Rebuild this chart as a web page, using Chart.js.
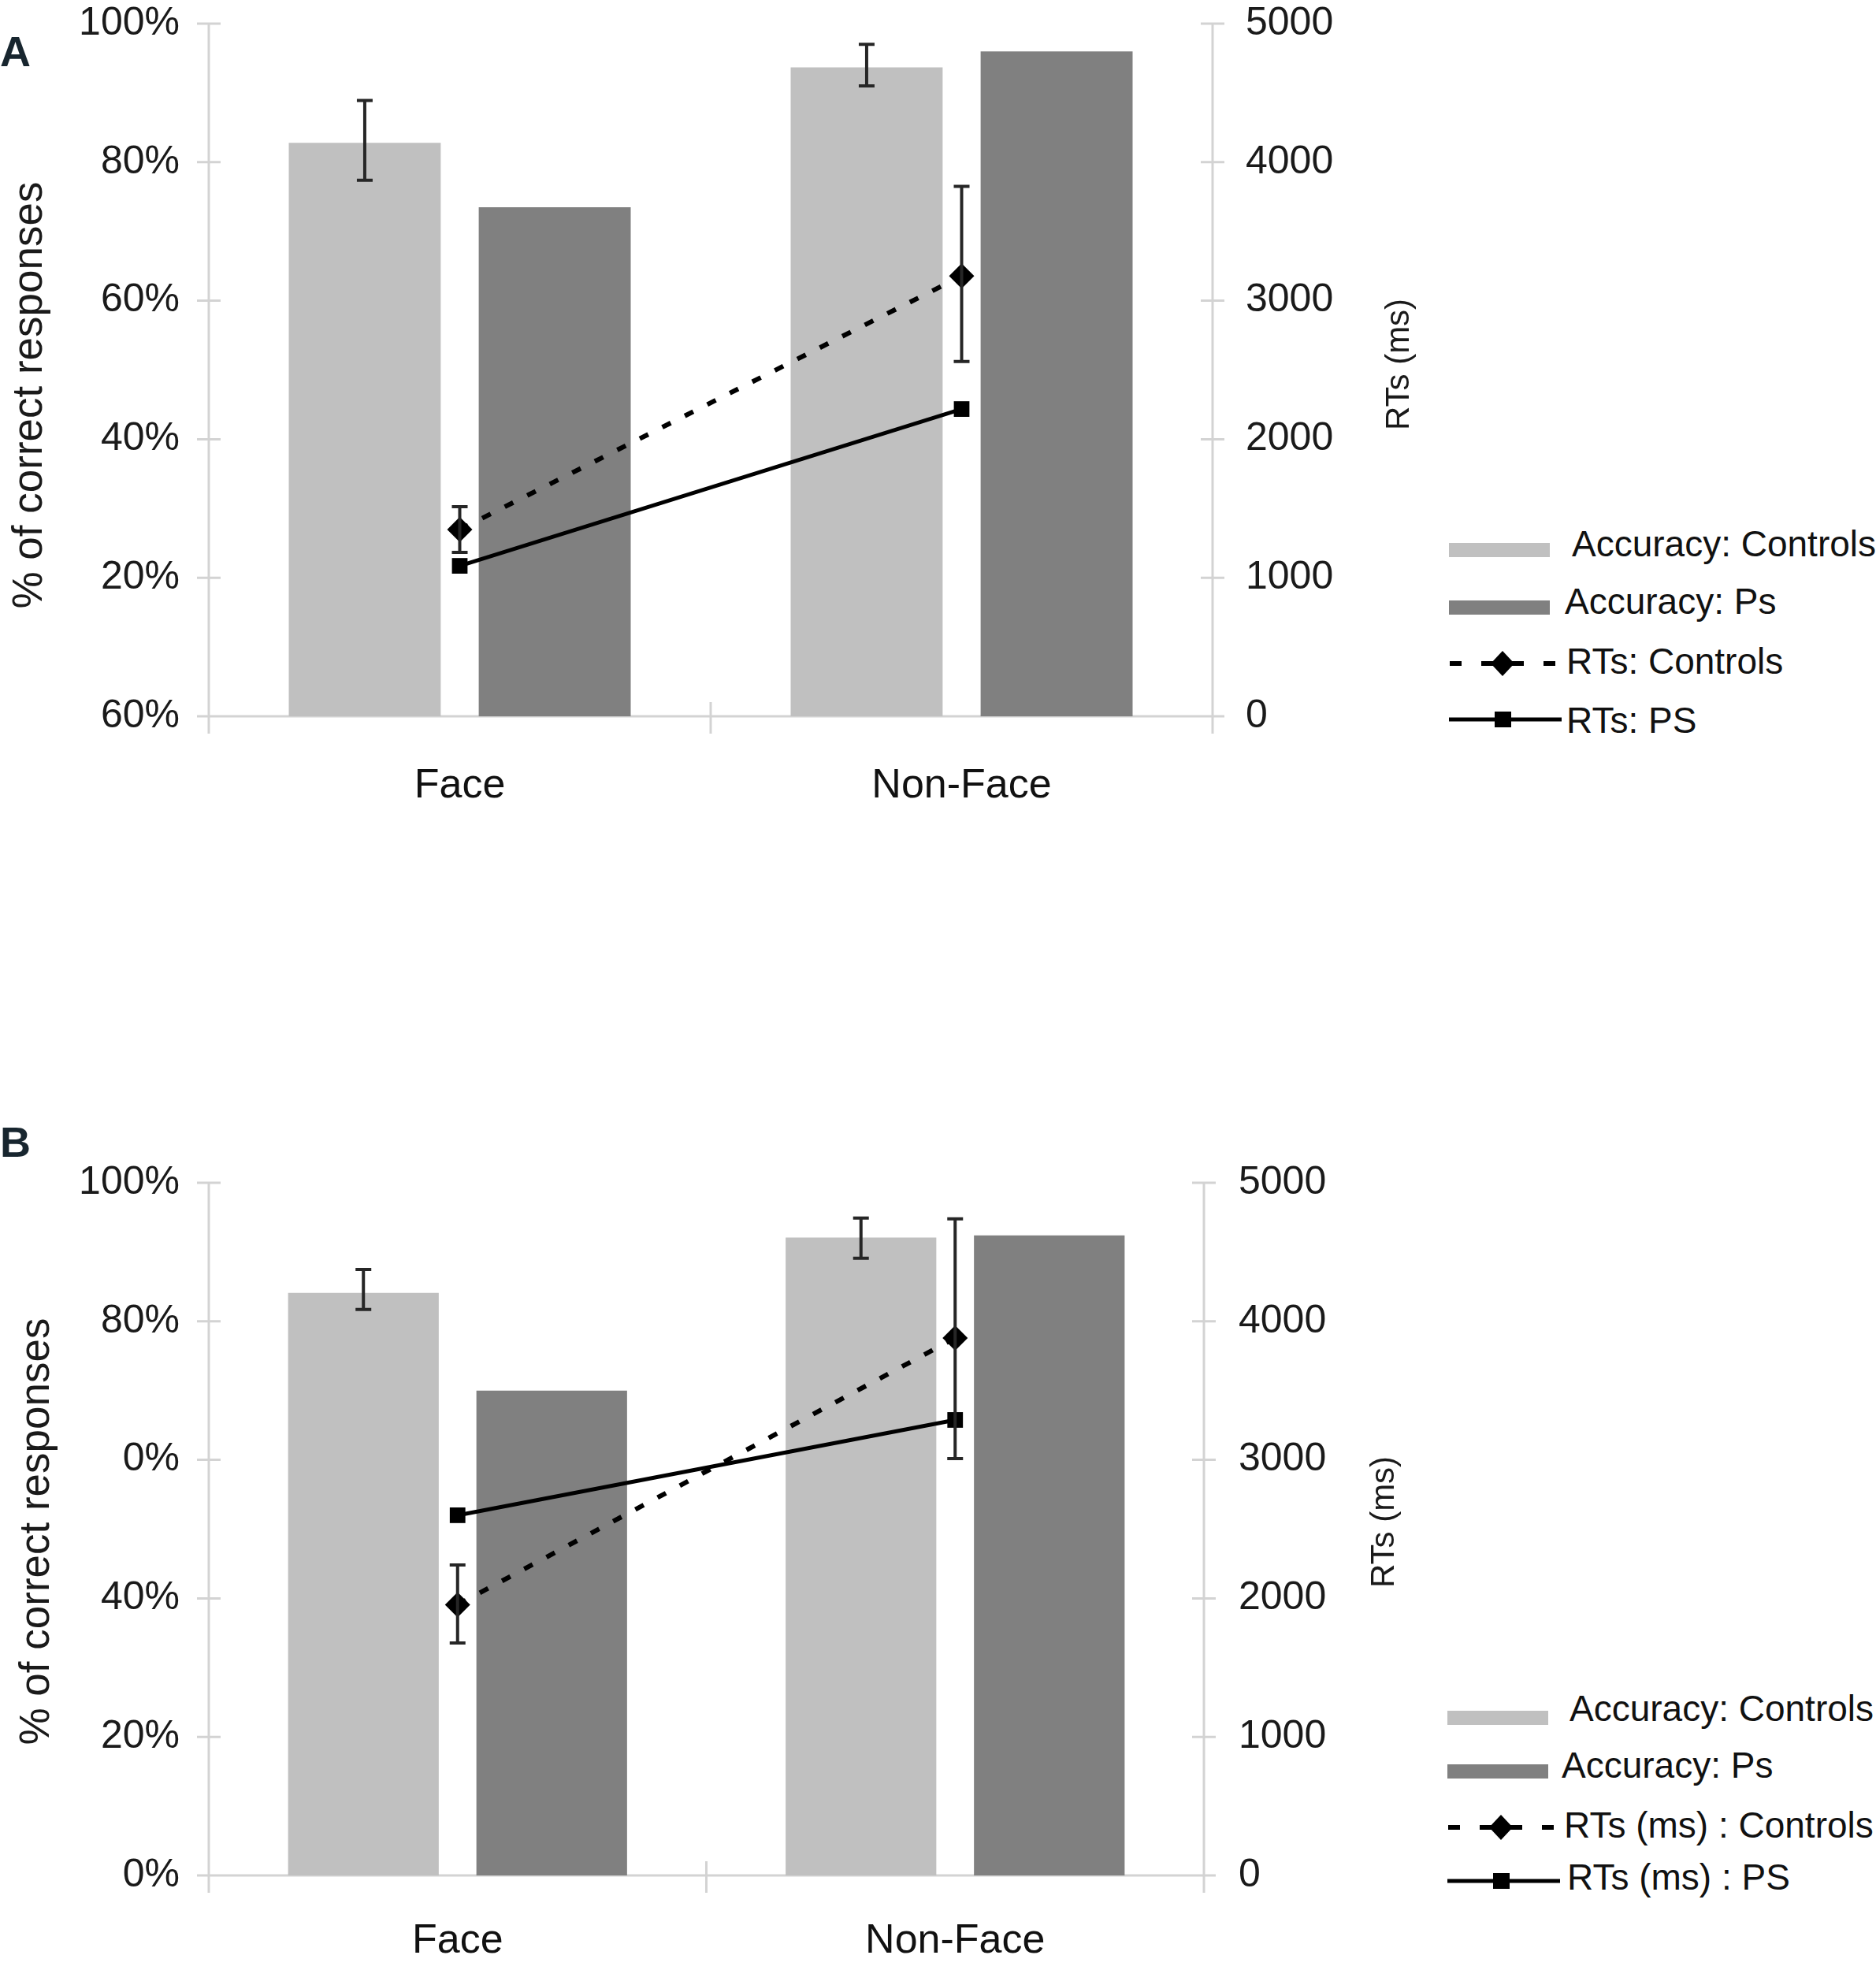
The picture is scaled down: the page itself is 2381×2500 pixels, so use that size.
<!DOCTYPE html>
<html>
<head>
<meta charset="utf-8">
<script src="https://cdn.jsdelivr.net/npm/chart.js@4.4.1/dist/chart.umd.min.js"></script>
<style>
  html, body { margin: 0; padding: 0; background: #fff; }
  body { width: 2381px; height: 2500px; position: relative; overflow: hidden; font-family: "Liberation Sans", Arial, sans-serif; }
  canvas { position: absolute; left: 0; }
  .panel-letter { position: absolute; left: 0; font-family: "Liberation Sans Narrow", "Liberation Sans", Arial, sans-serif; font-weight: bold; font-size: 54px; line-height: 1; color: #18262f; }
  .lg-text { position: absolute; font-size: 46px; line-height: 1; color: #111; white-space: nowrap; transform: translateY(-50%); }
  .lg-swatch { position: absolute; transform: translateY(-50%); }
</style>
</head>
<body>
<div class="panel-letter" style="top:38px">A</div>
<div class="panel-letter" style="top:1422px">B</div>
<canvas id="chartA" width="1810" height="1040" style="top:0px"></canvas>
<canvas id="chartB" width="1810" height="1040" style="top:1460px"></canvas>
<div id="legendA"></div>
<div id="legendB"></div>

<script>
// Data
const categories = ['Face', 'Non-Face'];

// Panel A (tick labels listed bottom to top, as printed)
const accTickLabelsA = ['60%', '20%', '40%', '60%', '80%', '100%'];
const accControlsA = [82.8, 93.7];
const accControlsLowA = [77.4, 91.0];
const accControlsHighA = [88.9, 97.0];
const accPsA = [73.5, 96.0];
const rtControlsA = [1348, 3178];
const rtControlsLowA = [1183, 2561];
const rtControlsHighA = [1513, 3826];
const rtPsA = [1086, 2218];
const legendLabelsA = ['Accuracy: Controls', 'Accuracy: Ps', 'RTs: Controls', 'RTs: PS'];

// Panel B
const accTickLabelsB = ['0%', '20%', '40%', '0%', '80%', '100%'];
const accControlsB = [84.1, 92.1];
const accControlsLowB = [81.7, 89.1];
const accControlsHighB = [87.5, 94.9];
const accPsB = [70.0, 92.4];
const rtControlsB = [1954, 3879];
const rtControlsLowB = [1678, 3009];
const rtControlsHighB = [2241, 4740];
const rtPsB = [2600, 3288];
const legendLabelsB = ['Accuracy: Controls', 'Accuracy: Ps', 'RTs (ms) : Controls', 'RTs (ms) : PS'];

const LIGHT = '#c0c0c0';
const DARK = '#808080';
const AXIS_GREY = '#d3d3d3';
const CANVAS_W = 1810;
const PLOT_LEFT = 265;

Chart.defaults.font.family = "'Liberation Sans', Arial, sans-serif";
Chart.defaults.color = '#1a1a1a';

// Axis lines and crossing tick marks, like the original spreadsheet chart
const axisDecor = {
    id: 'axisDecor',
    beforeDatasetsDraw(chart) {
        const { ctx, chartArea: a, scales } = chart;
        const half = 15, ext = 22;
        ctx.save();
        ctx.strokeStyle = AXIS_GREY;
        ctx.lineWidth = 3;
        ctx.beginPath();
        [a.left, a.right].forEach(x => { ctx.moveTo(x, a.top); ctx.lineTo(x, a.bottom + ext); });
        ctx.moveTo(a.left - half, a.bottom);
        ctx.lineTo(a.right + half, a.bottom);
        scales.y.ticks.forEach((t, i) => {
            const y = scales.y.getPixelForTick(i);
            ctx.moveTo(a.left - half, y); ctx.lineTo(a.left + half, y);
        });
        scales.y1.ticks.forEach((t, i) => {
            const y = scales.y1.getPixelForTick(i);
            ctx.moveTo(a.right - half, y); ctx.lineTo(a.right + half, y);
        });
        // boundary between the two categories
        const mid = (scales.x.getPixelForValue(0) + scales.x.getPixelForValue(1)) / 2;
        ctx.moveTo(mid, a.bottom - 18); ctx.lineTo(mid, a.bottom + ext);
        ctx.stroke();
        ctx.restore();
    }
};

// Error bars for datasets that carry errLow / errHigh
const errorBars = {
    id: 'errorBars',
    afterDatasetsDraw(chart) {
        const { ctx } = chart;
        const cap = 10;
        ctx.save();
        ctx.strokeStyle = '#262626';
        ctx.lineWidth = 4;
        ctx.setLineDash([]);
        chart.data.datasets.forEach((ds, di) => {
            if (!ds.errLow) return;
            const meta = chart.getDatasetMeta(di);
            const scale = chart.scales[ds.yAxisID];
            meta.data.forEach((el, i) => {
                const x = el.x;
                const yLo = scale.getPixelForValue(ds.errLow[i]);
                const yHi = scale.getPixelForValue(ds.errHigh[i]);
                ctx.beginPath();
                ctx.moveTo(x, yLo); ctx.lineTo(x, yHi);
                ctx.moveTo(x - cap, yLo); ctx.lineTo(x + cap, yLo);
                ctx.moveTo(x - cap, yHi); ctx.lineTo(x + cap, yHi);
                ctx.stroke();
            });
        });
        ctx.restore();
    }
};

// Both axis titles read bottom-to-top; drawn here so they can sit where the original has them
const axisTitles = {
    id: 'axisTitles',
    afterDraw(chart, args, opts) {
        const { ctx, chartArea: a } = chart;
        const mid = (a.top + a.bottom) / 2;
        opts.items.forEach(t => {
            ctx.save();
            ctx.translate(t.x, mid + t.dy);
            ctx.rotate(-Math.PI / 2);
            ctx.font = t.size + "px 'Liberation Sans', Arial, sans-serif";
            ctx.fillStyle = '#1a1a1a';
            ctx.textAlign = 'center';
            ctx.textBaseline = 'middle';
            ctx.fillText(t.text, 0, 0);
            ctx.restore();
        });
    }
};

function fixVertical(width) {
    return s => {
        s.width = width;
        s.paddingTop = 0;
        s.paddingBottom = 0;
    };
}

function buildPanel(id, p) {
    const canvas = document.getElementById(id);
    return new Chart(canvas.getContext('2d'), {
        type: 'bar',
        data: {
            labels: categories,
            datasets: [
                {
                    label: p.legend[0], data: p.accControls, yAxisID: 'y', order: 2,
                    backgroundColor: LIGHT, borderWidth: 0,
                    errLow: p.accControlsLow, errHigh: p.accControlsHigh
                },
                {
                    label: p.legend[1], data: p.accPs, yAxisID: 'y', order: 2,
                    backgroundColor: DARK, borderWidth: 0
                },
                {
                    type: 'line', label: p.legend[2], data: p.rtControls, yAxisID: 'y1', order: 0,
                    borderColor: '#000', borderWidth: 6, borderDash: [12, 20],
                    pointStyle: 'rectRot', pointRadius: 16, pointBackgroundColor: '#000', pointBorderWidth: 0,
                    errLow: p.rtControlsLow, errHigh: p.rtControlsHigh
                },
                {
                    type: 'line', label: p.legend[3], data: p.rtPs, yAxisID: 'y1', order: 1,
                    borderColor: '#000', borderWidth: 5,
                    pointStyle: 'rect', pointRadius: 14, pointBackgroundColor: '#000', pointBorderWidth: 0
                }
            ]
        },
        options: {
            responsive: false,
            animation: false,
            devicePixelRatio: 1,
            categoryPercentage: 0.757,
            barPercentage: 0.8,
            layout: { padding: { top: p.padTop, left: 0, right: 0, bottom: 0 } },
            plugins: {
                legend: { display: false },
                tooltip: { enabled: false },
                axisTitles: {
                    items: [
                        { text: '% of correct responses', size: 53, x: p.accTitleX, dy: p.accTitleDy },
                        { text: 'RTs (ms)', size: 42, x: p.rtTitleX, dy: p.rtTitleDy }
                    ]
                }
            },
            scales: {
                x: {
                    grid: { display: false, drawTicks: false },
                    border: { display: false },
                    ticks: { font: { size: 52 }, color: '#111', padding: p.xPad },
                    afterFit: s => { s.height = p.xHeight; }
                },
                y: {
                    position: 'left',
                    min: 0, max: 100,
                    grid: { display: false, drawTicks: false },
                    border: { display: false },
                    ticks: {
                        stepSize: 20, padding: 37, font: { size: 50 },
                        callback: (v, i) => p.accTickLabels[i]
                    },
                    afterFit: fixVertical(PLOT_LEFT)
                },
                y1: {
                    position: 'right',
                    min: 0, max: 5000,
                    grid: { display: false, drawTicks: false },
                    border: { display: false },
                    ticks: {
                        stepSize: 1000, padding: p.rightPad, font: { size: 50 },
                        callback: v => String(v)
                    },
                    afterFit: fixVertical(CANVAS_W - p.plotRight)
                }
            }
        },
        plugins: [axisDecor, errorBars, axisTitles]
    });
}

function swatch(kind) {
    if (kind === 'light' || kind === 'dark') {
        const fill = kind === 'light' ? LIGHT : DARK;
        return '<svg width="130" height="40"><rect x="0" y="11" width="128" height="18" fill="' + fill + '"/></svg>';
    }
    if (kind === 'dash') {
        return '<svg width="140" height="40"><line x1="1" y1="20" x2="136" y2="20" stroke="#000" stroke-width="6" stroke-dasharray="15 25 54 25 15 100"/>' +
            '<path d="M68 4 L83 20 L68 36 L53 20 Z" fill="#000"/></svg>';
    }
    return '<svg width="146" height="40"><line x1="0" y1="20" x2="143" y2="20" stroke="#000" stroke-width="5"/>' +
        '<rect x="58" y="10" width="21" height="20" fill="#000"/></svg>';
}

function buildLegend(id, labels, l) {
    const box = document.getElementById(id);
    const kinds = ['light', 'dark', 'dash', 'solid'];
    labels.forEach((text, i) => {
        const sw = document.createElement('div');
        sw.className = 'lg-swatch';
        sw.style.left = l.swatchX + 'px';
        sw.style.top = l.swatchY[i] + 'px';
        sw.innerHTML = swatch(kinds[i]);
        box.appendChild(sw);
        const tx = document.createElement('div');
        tx.className = 'lg-text';
        tx.style.left = l.textX[i] + 'px';
        tx.style.top = l.textY[i] + 'px';
        tx.textContent = text;
        box.appendChild(tx);
    });
}

function initApp() {
    buildPanel('chartA', {
        legend: legendLabelsA, accTickLabels: accTickLabelsA,
        accControls: accControlsA, accControlsLow: accControlsLowA, accControlsHigh: accControlsHighA,
        accPs: accPsA,
        rtControls: rtControlsA, rtControlsLow: rtControlsLowA, rtControlsHigh: rtControlsHighA,
        rtPs: rtPsA,
        padTop: 30, plotRight: 1539, xHeight: 131, xPad: 57, rightPad: 42,
        accTitleX: 38, accTitleDy: 32, rtTitleX: 1776, rtTitleDy: -7
    });
    buildPanel('chartB', {
        legend: legendLabelsB, accTickLabels: accTickLabelsB,
        accControls: accControlsB, accControlsLow: accControlsLowB, accControlsHigh: accControlsHighB,
        accPs: accPsB,
        rtControls: rtControlsB, rtControlsLow: rtControlsLowB, rtControlsHigh: rtControlsHighB,
        rtPs: rtPsB,
        padTop: 41, plotRight: 1528, xHeight: 120, xPad: 52, rightPad: 44,
        accTitleX: 47, accTitleDy: 3, rtTitleX: 1757, rtTitleDy: -9
    });
    buildLegend('legendA', legendLabelsA, {
        swatchX: 1839, swatchY: [700, 773, 844, 915],
        textX: [1995, 1986, 1988, 1988], textY: [690, 763, 839, 914]
    });
    buildLegend('legendB', legendLabelsB, {
        swatchX: 1837, swatchY: [2182, 2250, 2321, 2389],
        textX: [1992, 1982, 1985, 1989], textY: [2168, 2240, 2316, 2382]
    });
}

document.addEventListener('DOMContentLoaded', initApp);
</script>
</body>
</html>
